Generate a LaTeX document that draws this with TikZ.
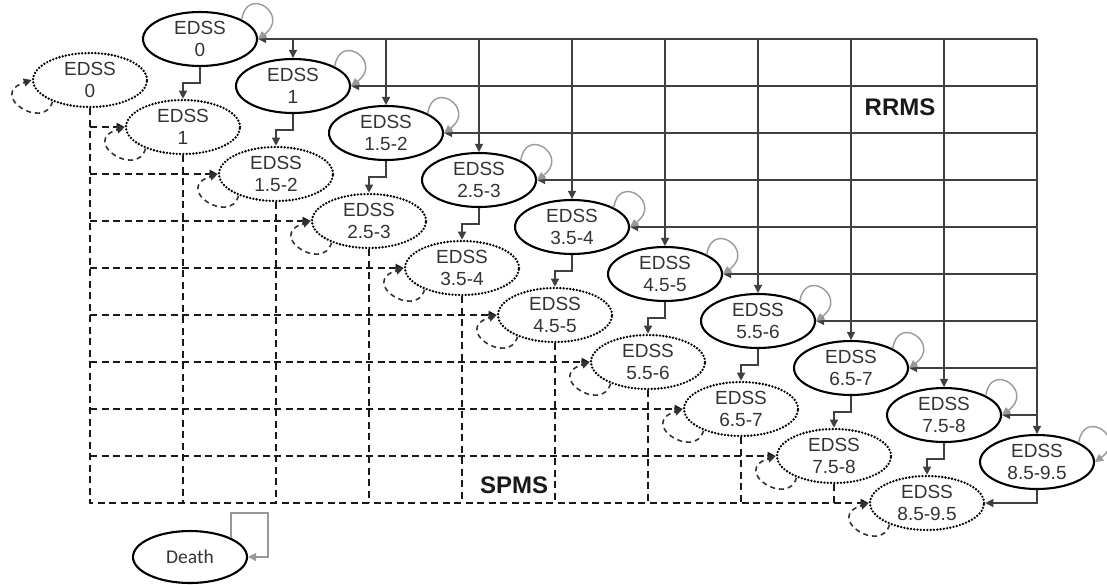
\documentclass[tikz,border=0pt]{standalone}
\usepackage{fontspec}
\setmainfont{Liberation Sans}
\newfontfamily\deathfont{Carlito}
\usetikzlibrary{shapes.geometric,arrows.meta,calc}
\begin{document}
\begin{tikzpicture}[x=1pt,y=-1pt,
  rr/.style={ellipse,draw=black,line width=2.1pt,minimum width=114pt,minimum height=54pt,inner sep=0pt,align=center,font=\fontsize{19}{22.5}\selectfont,text=black!80},
  ss/.style={rr,draw=black,dash pattern=on 0pt off 3.3pt,line cap=round,line width=2.6pt},
  arr/.style={draw=black!75,line width=1.3pt,-{Triangle[length=8pt,width=8pt]}},
  darr/.style={draw=black!90,line width=1.9pt,dash pattern=on 7pt off 4.5pt,-{Triangle[length=8pt,width=8pt]}},
  dline/.style={draw=black!90,line width=1.9pt,dash pattern=on 7pt off 4.5pt},
  rloop/.style={draw=black!40,line width=1.4pt,-{Triangle[length=8pt,width=8pt]}},
  dloop/.style={draw=black!80,line width=1.6pt,dash pattern=on 5pt off 4pt,-{Triangle[length=8pt,width=8pt]}},
  lbl/.style={font=\bfseries\fontsize{24}{24}\selectfont,text=black!90}
]
\useasboundingbox (0,0) rectangle (1107,584);
\foreach \i/\t in {0/0,1/1,2/1.5-2,3/2.5-3,4/3.5-4,5/4.5-5,6/5.5-6,7/6.5-7,8/7.5-8,9/8.5-9.5}{
  \node[rr] (r\i) at ({200+93*\i},{39+47*\i}) {EDSS\\\t};
  \node[ss] (s\i) at ({90+93*\i},{80+47*\i}) {EDSS\\\t};
}
\coordinate (tr) at (r9.north |- r0.east);
\coordinate (bl) at (s0.south |- s9.west);
% RRMS grid
\draw[arr] (tr) -- (r0.east);
\draw[arr] (tr) -- (r9.north);
\foreach \i in {1,...,8}{
  \draw[arr] (r\i.north |- tr) -- (r\i.north);
  \draw[arr] (tr |- r\i.east) -- (r\i.east);
}
% SPMS grid
\draw[darr] (s0.south) -- (bl) -- (s9.west);
\foreach \i in {1,...,8}{
  \draw[darr] (s\i.west -| bl) -- (s\i.west);
  \draw[dline] (s\i.south) -- (s\i.south |- bl);
}
% RRMS -> SPMS
\foreach \i in {0,...,8}{
  \pgfmathtruncatemacro\j{\i+1}
  \draw[arr] (r\i.south) -- ++(0,16) -| (s\j.north);
}
\draw[arr] (r9.south) |- (s9.east);
% self loops
\foreach \i in {0,...,9}{
  \draw[rloop] (r\i.25) .. controls +(5,-35) and +(33,-24) .. (r\i.east);
  \draw[dloop] (s\i.210) .. controls +(-8,30) and +(-45,15) .. (s\i.west);
}
\node[lbl] (rrms) at (900,107) {RRMS};
\node[lbl] (spms) at (514,485) {SPMS};
\node[rr,minimum height=52pt,font=\deathfont\fontsize{19.5}{22}\selectfont] (dth) at (190,557) {Death};
\draw[rloop] (dth.25) |- ($(dth.east)+(20,-44)$) |- (dth.east);
\end{tikzpicture}
\end{document}
